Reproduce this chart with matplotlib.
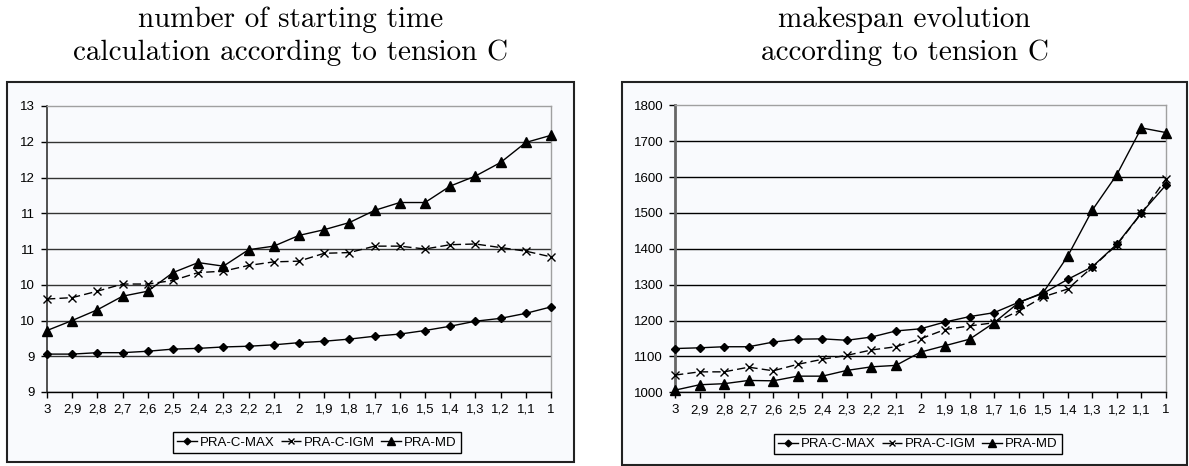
import matplotlib
matplotlib.use("Agg")
import matplotlib.pyplot as plt
from matplotlib.patches import Rectangle

# ---------------- data ----------------
categories = ["3", "2,9", "2,8", "2,7", "2,6", "2,5", "2,4", "2,3", "2,2", "2,1", "2",
              "1,9", "1,8", "1,7", "1,6", "1,5", "1,4", "1,3", "1,2", "1,1", "1"]
series_names = ["PRA-C-MAX", "PRA-C-IGM", "PRA-MD"]

# left chart: number of starting time calculation
left_cmax = [9.03, 9.03, 9.05, 9.05, 9.07, 9.10, 9.11, 9.13, 9.14, 9.16, 9.19,
             9.21, 9.24, 9.28, 9.31, 9.36, 9.42, 9.49, 9.53, 9.60, 9.69]
left_cigm = [9.80, 9.82, 9.91, 10.01, 10.01, 10.06, 10.17, 10.19, 10.27, 10.32, 10.33,
             10.44, 10.45, 10.54, 10.54, 10.50, 10.56, 10.57, 10.52, 10.47, 10.39]
left_md = [9.36, 9.50, 9.65, 9.84, 9.91, 10.17, 10.31, 10.26, 10.49, 10.54, 10.69,
           10.77, 10.87, 11.04, 11.15, 11.15, 11.38, 11.52, 11.71, 11.99, 12.09]
left_yticks = [8.5, 9.0, 9.5, 10.0, 10.5, 11.0, 11.5, 12.0, 12.5]
left_ytick_labels = ["9", "9", "10", "10", "11", "11", "12", "12", "13"]

# right chart: makespan evolution
right_cmax = [1122, 1124, 1127, 1127, 1140, 1148, 1149, 1145, 1154, 1171, 1177,
              1196, 1211, 1222, 1251, 1276, 1315, 1350, 1413, 1500, 1578]
right_cigm = [1048, 1057, 1057, 1070, 1060, 1078, 1092, 1103, 1118, 1127, 1149,
              1175, 1185, 1194, 1227, 1266, 1288, 1349, 1411, 1499, 1595]
right_md = [1006, 1021, 1024, 1033, 1032, 1045, 1045, 1061, 1071, 1075, 1112,
            1130, 1148, 1194, 1250, 1278, 1380, 1508, 1607, 1737, 1724]
right_yticks = [1000, 1100, 1200, 1300, 1400, 1500, 1600, 1700, 1800]
right_ytick_labels = ["1000", "1100", "1200", "1300", "1400", "1500", "1600", "1700", "1800"]

left_title = ["number of starting time", "calculation according to tension C"]
right_title = ["makespan evolution", "according to tension C"]

# ---------------- figure ----------------
W, H = 1189, 466
fig = plt.figure(figsize=(W / 100, H / 100), dpi=100)
fig.patch.set_facecolor("white")
BG = "#F9FAFD"
SANS = ["Liberation Sans", "DejaVu Sans"]
FS = 9.5


def px_rect(x0, y0, x1, y1):
    return [x0 / W, 1 - y1 / H, (x1 - x0) / W, (y1 - y0) / H]


def frame(x0, y0, x1, y1):
    r = Rectangle((x0 / W, 1 - y1 / H), (x1 - x0) / W, (y1 - y0) / H,
                  transform=fig.transFigure, facecolor=BG, edgecolor="#222222",
                  linewidth=1.5, zorder=-5)
    fig.patches.append(r)


def draw_chart(axrect, data, yticks, ylabels, gridcolor, leftspine, legend_center):
    ax = fig.add_axes(axrect)
    ax.patch.set_visible(False)
    x = list(range(len(categories)))
    styles = [dict(marker="D", ms=4, linestyle="-"),
              dict(marker="x", ms=5.5, mew=1.0, linestyle=(0, (6, 3))),
              dict(marker="^", ms=6.5, linestyle="-")]
    handles = []
    for vals, name, st in zip(data, series_names, styles):
        h, = ax.plot(x, vals, color="black", lw=1.0, mfc="black", mec="black",
                     label=name, zorder=3, clip_on=False, **st)
        handles.append(h)
    ax.set_xlim(0, len(categories) - 1)
    ax.set_ylim(yticks[0], yticks[-1])
    ax.set_xticks(x)
    ax.set_xticklabels(categories, fontfamily=SANS, fontsize=FS)
    ax.set_yticks(yticks)
    ax.set_yticklabels(ylabels, fontfamily=SANS, fontsize=FS)
    ax.tick_params(axis="both", direction="out", length=4, width=1, color="black")
    ax.tick_params(axis="y", pad=4.5)
    ax.tick_params(axis="x", pad=4.5)
    for yv in yticks[:-1]:
        ax.axhline(yv, color=gridcolor, lw=1.0, zorder=1)
    for s in ["top", "right"]:
        ax.spines[s].set_color("#A0A0A0")
        ax.spines[s].set_linewidth(1.0)
    ax.spines["left"].set_color(leftspine[0])
    ax.spines["left"].set_linewidth(leftspine[1])
    ax.spines["bottom"].set_color("black")
    ax.spines["bottom"].set_linewidth(1.0)
    leg = fig.legend(handles=handles, loc="center",
                     bbox_to_anchor=(legend_center[0] / W, 1 - legend_center[1] / H),
                     ncol=3, frameon=True, fancybox=False, shadow=False,
                     prop={"family": SANS, "size": FS}, handlelength=1.5,
                     handletextpad=0.25, columnspacing=0.45, borderpad=0.3,
                     borderaxespad=0, markerscale=0.85)
    leg.get_frame().set_edgecolor("black")
    leg.get_frame().set_linewidth(1.0)
    leg.get_frame().set_facecolor(BG)
    leg.get_frame().set_alpha(1)
    return ax


# frames
frame(7, 82, 574, 462)
frame(622, 82, 1187, 465)

draw_chart(px_rect(47, 106, 551, 392), [left_cmax, left_cigm, left_md],
           left_yticks, left_ytick_labels, "#333333", ("#333333", 1.2), (317, 442.5))
draw_chart(px_rect(675, 105.3, 1166, 392.3), [right_cmax, right_cigm, right_md],
           right_yticks, right_ytick_labels, "black", ("#666666", 2.0), (918, 444))

# titles
for cx, lines in [(290.5, left_title), (904.5, right_title)]:
    fig.text(cx / W, 1 - 27 / H, lines[0], ha="center", va="baseline",
             fontfamily="cmr10", fontsize=21)
    fig.text(cx / W, 1 - 60 / H, lines[1], ha="center", va="baseline",
             fontfamily="cmr10", fontsize=21)

fig.savefig("out.png", dpi=100, facecolor="white")
